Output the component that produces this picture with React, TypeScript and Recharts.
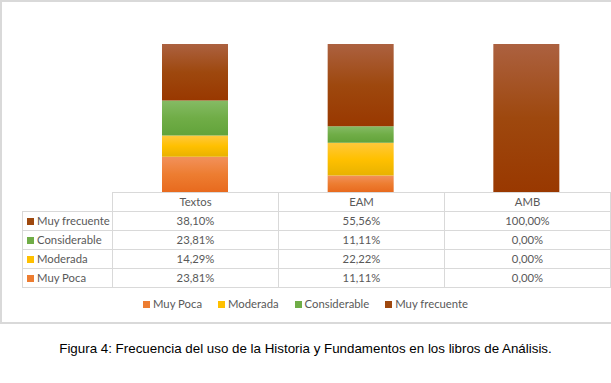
import React from 'react';
import { BarChart, Bar, XAxis, YAxis } from 'recharts';

const categories = ['Textos', 'EAM', 'AMB'];
const muyPoca = [23.81, 11.11, 0];
const moderada = [14.29, 22.22, 0];
const considerable = [23.81, 11.11, 0];
const muyFrecuente = [38.1, 55.56, 100];

// bottom to top, like the stack
const series = [
  { key: 'muyPoca', name: 'Muy Poca', values: muyPoca, color: '#ED7D31', top: '#F2915B', bottom: '#E86A1E' },
  { key: 'moderada', name: 'Moderada', values: moderada, color: '#FFC000', top: '#FFC83C', bottom: '#E8B200' },
  { key: 'considerable', name: 'Considerable', values: considerable, color: '#70AD47', top: '#85BB65', bottom: '#62A33A' },
  { key: 'muyFrecuente', name: 'Muy frecuente', values: muyFrecuente, color: '#9E480E', top: '#AC6140', bottom: '#993800' },
];

const data = categories.map((c, i) => {
  const row: Record<string, string | number> = { name: c };
  series.forEach(s => { row[s.key] = s.values[i]; });
  return row;
});

const fmt = (v: number) => v.toFixed(2).replace('.', ',') + '%';

const font = 'Lato, "Open Sans", sans-serif';
const grey = '#595959';
const line = '1px solid #D9D9D9';

const cell: React.CSSProperties = { border: line, padding: 0, textAlign: 'center', height: 18, lineHeight: '18px', overflow: 'hidden' };

function Key({ color }: { color: string }) {
  return <span style={{ display: 'inline-block', width: 7, height: 7, background: color, marginRight: 3, verticalAlign: 'middle', position: 'relative', top: -1 }} />;
}

export default function App() {
  return (
    <div style={{ position: 'absolute', left: 0, top: 0, width: 611, height: 383, background: '#fff', overflow: 'hidden', fontFamily: font }}>
      <div style={{ position: 'absolute', left: 0, top: 0, width: 614, height: 324, border: '2px solid #D9D9D9', boxSizing: 'border-box' }} />
      <div style={{ position: 'absolute', left: 0, top: 0 }}>
        <BarChart width={611} height={323} data={data} margin={{ top: 44, right: 2, left: 112, bottom: 131 }} barSize={66}>
          <defs>
            {series.map(s => (
              <linearGradient key={s.key} id={`g-${s.key}`} x1="0" y1="0" x2="0" y2="1">
                <stop offset="0%" stopColor={s.top} />
                <stop offset="50%" stopColor={s.color} />
                <stop offset="100%" stopColor={s.bottom} />
              </linearGradient>
            ))}
          </defs>
          <XAxis dataKey="name" hide />
          <YAxis domain={[0, 100]} hide />
          {series.map(s => (
            <Bar key={s.key} dataKey={s.key} name={s.name} stackId="a" fill={`url(#g-${s.key})`} isAnimationActive={false} />
          ))}
        </BarChart>
      </div>
      <table style={{ position: 'absolute', left: 22, top: 192, width: 588, borderCollapse: 'collapse', tableLayout: 'fixed', fontSize: 11.3, color: grey, fontFamily: font }}>
        <colgroup>
          <col style={{ width: 90 }} />
          <col style={{ width: 166 }} />
          <col style={{ width: 166 }} />
          <col style={{ width: 166 }} />
        </colgroup>
        <tbody>
          <tr>
            <td style={{ ...cell, borderTop: 'none', borderLeft: 'none' }} />
            {categories.map(c => <td key={c} style={cell}>{c}</td>)}
          </tr>
          {[...series].reverse().map(s => (
            <tr key={s.key}>
              <td style={{ ...cell, textAlign: 'left', paddingLeft: 4, whiteSpace: 'nowrap' }}><Key color={s.color} />{s.name}</td>
              {s.values.map((v, i) => <td key={i} style={cell}>{fmt(v)}</td>)}
            </tr>
          ))}
        </tbody>
      </table>
      <div style={{ position: 'absolute', left: 0, top: 297, width: 611, textAlign: 'center', fontSize: 11.3, color: grey, whiteSpace: 'nowrap' }}>
        {series.map(s => (
          <span key={s.key} style={{ margin: '0 8px' }}><Key color={s.color} />{s.name}</span>
        ))}
      </div>
      <div style={{ position: 'absolute', left: 0, top: 341, width: 611, textAlign: 'center', fontSize: 13.35, color: '#000', fontFamily: '"Liberation Sans", Arial, sans-serif', whiteSpace: 'nowrap' }}>
        Figura 4: Frecuencia del uso de la Historia y Fundamentos en los libros de Análisis.
      </div>
    </div>
  );
}
